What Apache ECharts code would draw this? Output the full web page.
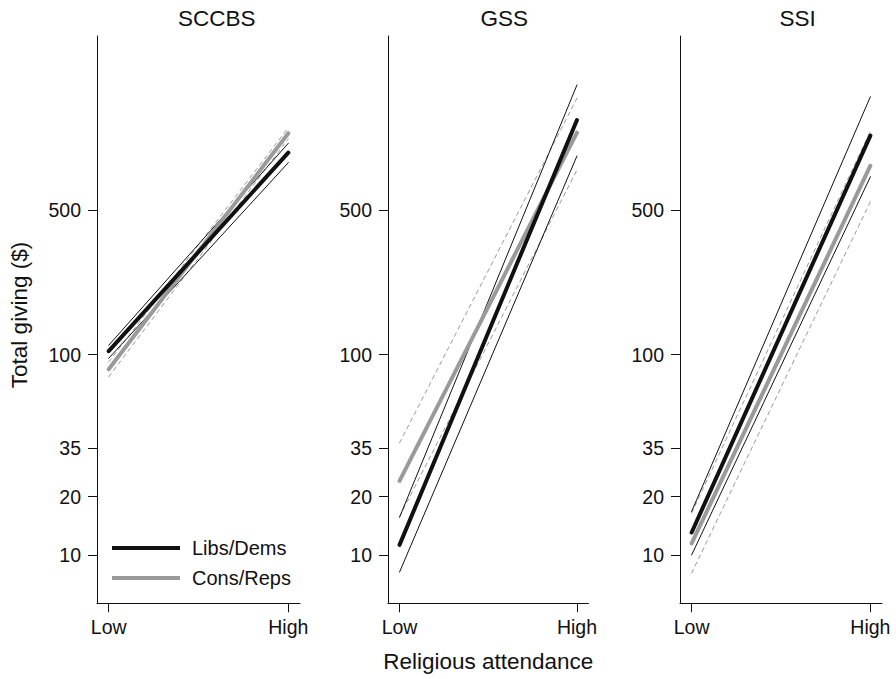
<!DOCTYPE html>
<html>
<head>
<meta charset="utf-8">
<title>Total giving by religious attendance</title>
<script src="https://cdn.jsdelivr.net/npm/echarts@6/dist/echarts.min.js"></script>
<style>
  html, body { margin: 0; padding: 0; background: #fff; }
  #chart { width: 896px; height: 679px; }
</style>
</head>
<body>
<div id="chart"></div>
<script>
// panels, x categories and y ticks
var panelNames = ['SCCBS', 'GSS', 'SSI'];
var attendance = ['Low', 'High'];
var yTicks = [10, 20, 35, 100, 500];

// predicted total giving ($) at [Low, High], one pair per panel
var libsDems      = [[104, 944],  [11.3, 1356], [13.1, 1140]];
var libsDemsUpper = [[111, 1048], [15.7, 1999], [16.8, 1756]];
var libsDemsLower = [[96, 845],   [8.1, 910],   [10.0, 723]];
var consReps      = [[85, 1171],  [24, 1178],   [11.5, 817]];
var consRepsUpper = [[92, 1246],  [37, 1725],   [16.5, 1200]];
var consRepsLower = [[78, 1100],  [15.8, 779],  [8.0, 548]];

// y is drawn on a log(x + 1) scale
function lg(v) { return Math.log10(v + 1); }

var FONT = '"Liberation Sans", Arial, Helvetica, sans-serif';
var INK = '#111';
var GRAY = '#9a9a9a';

var grids = [
  { left: 97,  top: 36, width: 203,   height: 567.3 },
  { left: 388, top: 36, width: 200.5, height: 567.3 },
  { left: 680, top: 36, width: 202,   height: 567.3 }
];

var xAxes = [], yAxes = [], series = [];

function line(name, pair, i, color, width, type) {
  return {
    type: 'line',
    name: name,
    xAxisIndex: i,
    yAxisIndex: i,
    data: pair.map(function (v, k) { return [k, lg(v)]; }),
    symbol: 'none',
    silent: true,
    lineStyle: { color: color, width: width, type: type || 'solid', cap: 'round' },
    itemStyle: { color: color }
  };
}

panelNames.forEach(function (p, i) {
  xAxes.push({
    gridIndex: i,
    type: 'value',
    min: -0.065,
    max: 1.065,
    name: i === 1 ? 'Religious attendance' : '',
    nameLocation: 'middle',
    nameGap: 47,
    nameTextStyle: { fontFamily: FONT, fontSize: 22.5, color: INK },
    axisLine: { onZero: false, lineStyle: { color: INK, width: 1 } },
    axisTick: { length: 9, customValues: [0, 1], lineStyle: { color: INK } },
    axisLabel: {
      customValues: [0, 1],
      margin: 14,
      fontFamily: FONT, fontSize: 19.5, color: INK,
      formatter: function (v) { return attendance[Math.round(v)]; }
    },
    splitLine: { show: false }
  });
  yAxes.push({
    gridIndex: i,
    type: 'value',
    min: 0.809,
    max: 3.5364,
    axisLine: { show: true, onZero: false, lineStyle: { color: INK, width: 1 } },
    axisTick: { show: true, length: 9, customValues: yTicks.map(lg), lineStyle: { color: INK } },
    axisLabel: {
      customValues: yTicks.map(lg),
      margin: 16,
      fontFamily: FONT, fontSize: 19.5, color: INK,
      formatter: function (v) { return String(Math.round(Math.pow(10, v) - 1)); }
    },
    splitLine: { show: false }
  });

  series.push(line('Cons/Reps upper', consRepsUpper[i], i, GRAY, 1, [4, 4]));
  series.push(line('Cons/Reps lower', consRepsLower[i], i, GRAY, 1, [4, 4]));
  series.push(line('Libs/Dems upper', libsDemsUpper[i], i, INK, 1));
  series.push(line('Libs/Dems lower', libsDemsLower[i], i, INK, 1));
  series.push(line('Cons/Reps', consReps[i], i, GRAY, 4));
  series.push(line('Libs/Dems', libsDems[i], i, INK, 4));
});

var titleX = [216.7, 504.2, 797.7];

var chart = echarts.init(document.getElementById('chart'), null, { renderer: 'svg' });
chart.setOption({
  animation: false,
  backgroundColor: '#fff',
  grid: grids,
  xAxis: xAxes,
  yAxis: yAxes,
  series: series,
  legend: {
    data: ['Libs/Dems', 'Cons/Reps'],
    orient: 'vertical',
    left: 112,
    top: 536,
    padding: 0,
    icon: 'rect',
    itemWidth: 68,
    itemHeight: 4,
    itemGap: 6,
    selectedMode: false,
    textStyle: { fontFamily: FONT, fontSize: 20, lineHeight: 24, color: INK, padding: [0, 0, 0, 7] }
  },
  graphic: panelNames.map(function (p, i) {
    return {
      type: 'text', x: titleX[i], y: 18.7,
      style: { text: p, font: '22.5px ' + FONT, fill: INK, align: 'center', verticalAlign: 'middle' }
    };
  }).concat([{
    type: 'text', x: 19, y: 315, rotation: Math.PI / 2,
    style: { text: 'Total giving ($)', font: '22.5px ' + FONT, fill: INK, align: 'center', verticalAlign: 'middle' }
  }])
});
</script>
</body>
</html>
